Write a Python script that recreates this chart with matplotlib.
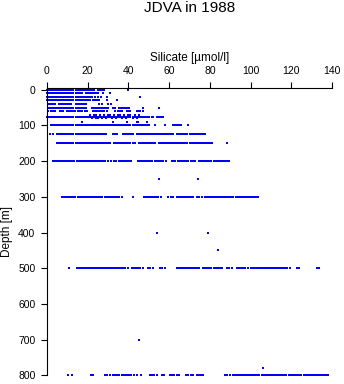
import matplotlib
matplotlib.use("Agg")
import matplotlib.pyplot as plt

plt.rcParams['font.family'] = ['Liberation Sans', 'DejaVu Sans']

# Silicate [umol/l] observations grouped by depth [m]
sil_0 = [0, 1, 2, 3, 4, 5, 6, 7, 8, 9, 10, 11, 12, 13, 14, 15, 16, 17, 18,
         19, 20, 21, 22, 23, 25, 26, 27, 28, 40]
sil_10 = [0, 1, 2, 3, 4, 5, 6, 7, 8, 9, 10, 11, 12, 13, 14, 15, 16, 17,
          19, 20, 21, 22, 23, 24, 25, 27.7, 30.9]
sil_20 = [0, 1, 2, 3, 4, 5, 6, 7, 8, 9, 10, 11, 12, 13, 14, 15, 16, 17, 18, 19,
          20, 21, 22, 23.5, 25, 26.5, 29.6, 45.7]
sil_30 = [0, 1, 2, 3, 4, 5, 6, 7, 8, 9, 10, 11, 12, 13, 14, 15, 16, 17, 18, 19,
          20, 21, 22.7, 23.7, 24.7, 25.7, 29.3, 34.5]
sil_40 = [1, 2, 3, 4, 6, 7, 8, 9, 10, 11, 12, 14.2, 15.2, 16.2, 17, 18, 19,
          25.7, 26.9, 30.1, 31.3]
sil_50 = [1, 2, 3, 4, 5, 6, 7, 8, 9, 10, 11, 12, 13, 14, 15, 16, 17, 18, 19,
          22, 23, 24, 25, 26, 27, 28, 29, 30, 32.6, 33.5,
          35.5, 36.5, 37.5, 38.5, 39.5, 40.5, 47.3, 55.2]
sil_60 = [0.6, 1.8, 3.1, 3.9, 6.4, 7.2, 8, 9.7, 10.5, 11.3, 12.1, 13, 13.8,
          15.4, 16.2, 17, 18.7, 19.8, 22.7, 23.5, 24.3, 25.1, 26, 26.9, 28,
          29.3, 33.4, 35, 35.8, 36.7, 39.1, 40, 40.8, 44, 44.8, 45.7, 47.3]
sil_70 = [21, 23, 24, 26, 28, 30, 31, 33, 35, 36, 38, 40, 41, 43, 45]
sil_75 = [0, 1, 2, 3, 4, 5, 6, 7, 8, 9, 10, 11, 12, 13, 14, 15, 16, 17, 18, 19,
          20, 21, 22, 23, 24, 25, 26, 27, 28, 29, 30, 31, 32, 33, 34, 35, 36,
          37, 38, 39, 40, 41, 42, 43, 44, 45, 46, 47, 48, 49, 50,
          51.4, 52.2, 54, 55, 56, 57]
sil_80 = [22, 24, 25, 27, 29, 32, 34, 37, 39, 42, 44]
sil_90 = [17, 32.6, 39.1, 44, 44.7, 49]
sil_100 = [2, 3, 4, 5, 6, 7, 8, 9, 10, 11, 12, 13, 14, 15, 16, 17, 18, 19, 20,
           21, 22, 23, 24, 25, 26, 27, 28, 29, 30, 31, 32, 33, 34, 35, 36, 37,
           38, 39, 40, 41, 42, 43, 44, 45, 46, 47, 48, 49, 50,
           53, 58, 62, 63, 64, 65, 66, 69.4]
sil_125 = [1.5, 3, 5, 6, 7, 8, 9, 10, 11, 12, 13, 14, 15, 16, 17, 18, 19, 20,
           21, 22, 23, 24, 25, 26, 27, 28, 29, 32.6, 33.4, 34.2,
           37.5, 38.5, 39.5, 40.5, 41.5, 42.4, 44, 45, 46, 47, 48, 49, 50, 51,
           52, 53, 54, 55, 56, 57, 58, 59, 60, 61, 62, 64, 65, 66, 67, 68, 69,
           70, 71, 72, 73, 74, 75, 76, 77, 77.6]
sil_150 = [5, 6, 7, 8, 9, 10, 11, 12, 13, 14, 15, 16, 17, 18, 19, 20, 21, 22,
           23, 24, 25, 26, 27, 28, 29, 30, 31, 33, 34, 35, 36, 37, 38, 39, 40,
           41, 42, 43, 45, 46, 47, 48, 49, 50, 51, 52, 53, 55, 56, 57, 58, 59,
           60, 61, 62, 63, 64, 65, 66, 67, 68, 69, 70, 71, 72, 73, 74, 75, 76,
           77, 78, 79, 80, 81, 88.3]
sil_200 = [3.1, 4, 4.8, 5.6, 6.5, 7.5, 8.5, 9.5, 10.5, 11.5, 12.5, 13.5, 14.5,
           15.5, 16.5, 17.5, 18.5, 19.5, 20.5, 21.5, 22.5, 23.5, 24.5, 25.5,
           26.5, 27.7, 28.5, 30, 31.5, 33, 33.9, 35.5, 36.5, 37.5, 38.5, 39.5,
           40.5, 41.1, 44.8, 45.8, 46.8, 47.8, 48.8, 49.8, 50.8, 51.8, 53,
           53.9, 55, 56, 57, 58.4, 61.6, 62.3, 62.9, 64.5, 65.5, 66.5, 67.5,
           68.5, 69.5, 70.5, 71.5, 72.7, 74.8, 75.8, 76.8, 77.8, 78.8, 79.8,
           80.8, 81.8, 82.8, 83.8, 84.8, 85.8, 86.8, 87.8, 88.8, 89.5]
sil_250 = [55.2, 74.2]
sil_300 = [7.2, 8, 9, 10, 11, 12, 13, 13.8, 15, 16, 17, 18, 19, 20, 21, 22,
           23, 24, 25, 26, 26.9, 28.5, 29.5, 30.5, 31.5, 32.5, 33.5, 34.5,
           35.5, 36.7, 42, 47.6, 48.6, 49.6, 50.6, 51.6, 52.6, 53.6, 54.6,
           55.8, 59.6, 60.8, 62, 63.7, 64.7, 65.7, 66.7, 67.7, 68.7, 69.7,
           70.7, 71.9, 73.5, 74.7, 76, 77.6, 78.6, 79.6, 80.6, 81.6, 82.6,
           83.6, 84.6, 85.6, 86.6, 87.6, 88.6, 89.6, 90.6, 91.6, 92.6, 93.6,
           94.6, 95.6, 96.6, 97.6, 98.6, 99.6, 100.6, 101.6, 102.6, 103.8]
sil_400 = [54.2, 79.2]
sil_450 = [84.2]
sil_500 = [11, 14.6, 15.6, 16.6, 17.6, 18.6, 19.6, 20.6, 21.6, 22.6, 23.6,
           24.6, 25.6, 26.6, 27.6, 28.6, 29.6, 30.6, 31.6, 32.6, 33.6, 34.2,
           35.5, 36.5, 37.5, 38.5, 39.9, 41.6, 42.6, 43.6, 44.6, 45.6, 47,
           49.8, 50.8, 51.9, 55.5, 56.5, 58, 63.7, 64.7, 65.7, 66.7, 67.7,
           68.7, 69.7, 70.7, 71.7, 72.7, 73.7, 74.8, 76.8, 77.8, 78.8, 79.8,
           80.8, 81.8, 82.8, 83.8, 84.8, 86, 88.3, 89.5, 90.7, 93.5, 94.5,
           95.5, 96.5, 97.5, 98.9, 100, 101, 102, 103, 104, 105, 106, 107,
           108, 109, 110, 111, 112, 113, 114, 115, 116, 117, 118, 119.4,
           122.6, 123.8, 132.5, 133.7]
sil_700 = [45.2]
sil_780 = [106.3]
sil_800 = [10.5, 12.1, 21.5, 22.8, 28.5, 29.7, 31, 32.6, 33.6, 34.6, 35.6,
           36.6, 37.6, 38.6, 39.4, 40.4, 41.5, 42.7, 44.4, 46, 50.6, 51.6,
           52.6, 53.8, 56.3, 57.5, 60.4, 61.5, 62.6, 63.8, 65, 68.3, 69.5,
           70.7, 71.9, 73.5, 74.6, 75.7, 76.8, 87.4, 88.6, 89.9, 91.2, 92.2,
           93.2, 94.2, 95.2, 96.2, 97.2, 98.2, 99.2, 100.2, 101.2, 102.2,
           103.2, 104.2, 105.4, 106.4, 107.4, 108.4, 109.4, 110.4, 111.4,
           112.4, 113.4, 114.4, 115.4, 116.4, 117.6, 119, 120, 121, 122, 123,
           124, 125, 126, 127, 128, 129, 130, 131, 132, 133, 134, 135, 136,
           137, 138.2]

depths = [0, 10, 20, 30, 40, 50, 60, 70, 75, 80, 90, 100, 125, 150, 200,
          250, 300, 400, 450, 500, 700, 780, 800]
silicate_by_depth = [sil_0, sil_10, sil_20, sil_30, sil_40, sil_50, sil_60,
                     sil_70, sil_75, sil_80, sil_90, sil_100, sil_125, sil_150,
                     sil_200, sil_250, sil_300, sil_400, sil_450, sil_500,
                     sil_700, sil_780, sil_800]

x_ticks = [0, 20, 40, 60, 80, 100, 120, 140]
y_ticks = [0, 100, 200, 300, 400, 500, 600, 700, 800]

fig = plt.figure(figsize=(3.44, 3.84), dpi=100)
ax = fig.add_axes([47 / 344, 1 - 375.3 / 384, 285 / 344, (375.3 - 88) / 384])

for d, vals in zip(depths, silicate_by_depth):
    ax.plot(vals, [d] * len(vals), linestyle='none', marker='s',
            markersize=1.9, markeredgewidth=0, color='#0000ff', clip_on=False)

ax.set_xlim(0, 140)
ax.set_ylim(800, -5)
ax.xaxis.set_ticks_position('top')
ax.xaxis.set_label_position('top')
ax.set_xticks(x_ticks)
ax.set_yticks(y_ticks)
for s in ['right', 'bottom']:
    ax.spines[s].set_visible(False)
for s in ['left', 'top']:
    ax.spines[s].set_linewidth(0.8)
ax.tick_params(axis='both', direction='out', length=4.3, width=0.8,
               labelsize=7.5, pad=4)
ax.set_xlabel('Silicate [µmol/l]', fontsize=8.5, labelpad=4)
ax.set_ylabel('Depth [m]', fontsize=8.5)
ax.yaxis.set_label_coords(-0.118, 0.5)
fig.text(190 / 344, 1 - 8 / 384, 'JDVA in 1988', ha='center', va='center',
         fontsize=11)

fig.savefig('out.png', dpi=100)
